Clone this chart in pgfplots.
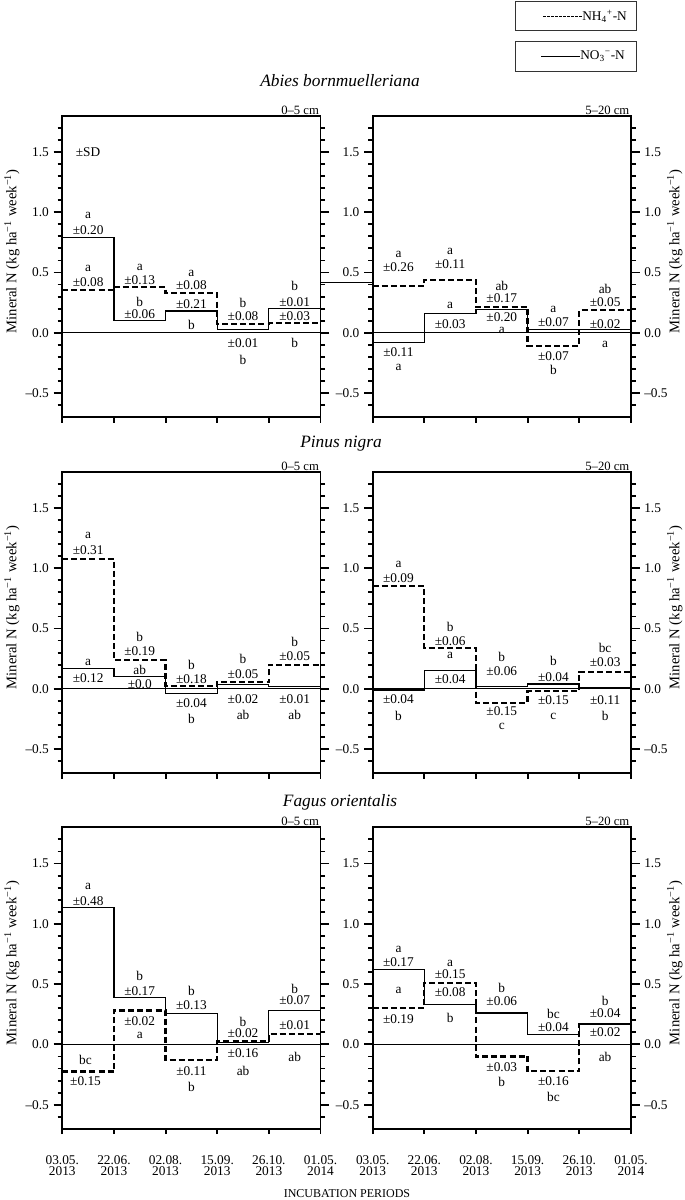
\documentclass[border=0pt]{standalone}
\usepackage{fontspec}
\setmainfont{Liberation Serif}
\usepackage{pgfplots}
\pgfplotsset{compat=1.18}

\newcommand{\ann}[3]{\node[font=\fontsize{10}{11}\selectfont, inner sep=0pt] at (axis cs:#1,#2) {#3};}

\pgfplotsset{
  panel/.style={
    scale only axis, width=193.7pt, height=226.1pt,
    anchor=north west,
    xmin=0,xmax=5,ymin=-0.7,ymax=1.8,
    axis line style={line width=1.4pt},
    xtick={0,1,2,3,4,5}, xticklabels={},
    xtick pos=left,
    ytick pos=both,
    tick align=outside,
    ytick={-0.5,0,0.5,1,1.5},
    yticklabels={–0.5,0.0,0.5,1.0,1.5},
    minor ytick={-0.6,-0.4,-0.3,-0.2,-0.1,0.1,0.2,0.3,0.4,0.6,0.7,0.8,0.9,1.1,1.2,1.3,1.4,1.6,1.7},
    major tick length=6.5pt, minor tick length=3.5pt,
    every tick/.style={line width=1.4pt, black},
    xtick style={/pgfplots/major tick length=4pt},
    tick label style={font=\fontsize{10}{11}\selectfont},
    yticklabel pos=left,
    clip=false,
    every axis y label/.style={at={(axis description cs:-0.195,0.55)},rotate=90,anchor=center,font=\fontsize{11}{13}\selectfont},
  },
  rightlab/.style={
    scale only axis, width=193.7pt, height=226.1pt,
    anchor=north west,
    xmin=0,xmax=5,ymin=-0.7,ymax=1.8,
    hide x axis,
    axis y line*=right,
    axis line style={line width=1.4pt},
    ytick pos=right, yticklabel pos=right,
    tick align=outside,
    ytick={-0.5,0,0.5,1,1.5},
    yticklabels={–0.5,0.0,0.5,1.0,1.5},
    minor ytick={-0.6,-0.4,-0.3,-0.2,-0.1,0.1,0.2,0.3,0.4,0.6,0.7,0.8,0.9,1.1,1.2,1.3,1.4,1.6,1.7},
    major tick length=6.5pt, minor tick length=3.5pt,
    every tick/.style={line width=1.4pt, black},
    tick label style={font=\fontsize{10}{11}\selectfont},
    every axis y label/.style={at={(axis description cs:1.17,0.55)},rotate=90,anchor=center,font=\fontsize{11}{13}\selectfont},
    ylabel={Mineral N (kg ha\textsuperscript{−1} week\textsuperscript{−1})},
  },
  bottomrow/.style={
    xticklabels={03.05.\\2013,22.06.\\2013,02.08.\\2013,15.09.\\2013,26.10.\\2013,01.05.\\2014},
    xticklabel style={align=center, font=\fontsize{10}{8.5}\selectfont, yshift=-10pt},
  },
  no3/.style={const plot, black, line width=0.9pt, no marks},
  nh4/.style={const plot, black, line width=1.7pt, dash pattern=on 4.5pt off 2.3pt, no marks},
  zero/.style={black, line width=0.8pt, no marks},
}
\newcommand{\ylab}{Mineral N (kg ha\textsuperscript{−1} week\textsuperscript{−1})}
\newcommand{\depth}[1]{\node[anchor=south east, font=\fontsize{9.5}{10}\selectfont, inner sep=1pt] at (rel axis cs:1,1) {#1};}

\begin{document}
\begin{tikzpicture}

% legend boxes
\draw[line width=0.6pt, black!80] (386.8pt,-1.3pt) rectangle (477pt,-23pt);
\draw[line width=0.6pt, black, dash pattern=on 2pt off 1pt] (407.3pt,-12.2pt) -- (436.5pt,-12.2pt);
\node[anchor=west, inner sep=0pt, font=\fontsize{10}{11}\selectfont] at (436.5pt,-12.2pt) {NH\textsubscript{4}\textsuperscript{+}-N};
\draw[line width=0.6pt, black!80] (386.8pt,-31.3pt) rectangle (477pt,-53.25pt);
\draw[line width=0.6pt, black] (405.75pt,-42.3pt) -- (435pt,-42.3pt);
\node[anchor=west, inner sep=0pt, font=\fontsize{10}{11}\selectfont] at (435pt,-42.3pt) {NO\textsubscript{3}\textsuperscript{−}-N};

% titles
\node[font=\fontsize{13}{15}\selectfont\itshape] at (255pt,-60.75pt) {Abies bornmuelleriana};
\node[font=\fontsize{13}{15}\selectfont\itshape] at (255.75pt,-333pt) {Pinus nigra};
\node[font=\fontsize{13}{15}\selectfont\itshape] at (255pt,-601.5pt) {Fagus orientalis};
\node[font=\fontsize{9}{10}\selectfont] at (260.25pt,-895.5pt) {INCUBATION PERIODS};

%% ---------- Row 1: Abies ----------
\begin{axis}[panel, at={(46.7pt,-86.8pt)}, ylabel={\ylab}]
\addplot[zero] coordinates {(0,0)(5,0)};
\addplot[no3] coordinates {(0,0.79)(1,0.10)(2,0.18)(3,0.025)(4,0.20)(5,0.20)};
\addplot[nh4] coordinates {(0,0.353)(1,0.378)(2,0.328)(3,0.075)(4,0.08)(5,0.08)};
\depth{0–5 cm}
\ann{0.5}{1.5}{±SD}
\ann{0.5}{0.97}{a}\ann{0.5}{0.855}{±0.20}\ann{0.5}{0.533}{a}\ann{0.5}{0.417}{±0.08}
\ann{1.5}{0.54}{a}\ann{1.5}{0.438}{±0.13}\ann{1.5}{0.255}{b}\ann{1.5}{0.153}{±0.06}
\ann{2.5}{0.494}{a}\ann{2.5}{0.394}{±0.08}\ann{2.5}{0.236}{±0.21}\ann{2.5}{0.063}{b}
\ann{3.5}{0.244}{b}\ann{3.5}{0.138}{±0.08}\ann{3.5}{-0.083}{±0.01}\ann{3.5}{-0.223}{b}
\ann{4.5}{0.388}{b}\ann{4.5}{0.258}{±0.01}\ann{4.5}{0.138}{±0.03}\ann{4.5}{-0.083}{b}
\end{axis}

\begin{axis}[panel, at={(279.5pt,-86.8pt)}]
\addplot[zero] coordinates {(0,0)(5,0)};
\addplot[black, line width=0.9pt, no marks] coordinates {(-1,0.42)(0,0.42)};
\addplot[no3] coordinates {(0,-0.083)(1,0.16)(2,0.193)(3,0.028)(4,0.028)(5,0.028)};
\addplot[nh4] coordinates {(0,0.39)(1,0.44)(2,0.213)(3,-0.11)(4,0.188)(5,0.188)};
\depth{5–20 cm}
\ann{0.5}{0.652}{a}\ann{0.5}{0.547}{±0.26}\ann{0.5}{-0.157}{±0.11}\ann{0.5}{-0.287}{a}
\ann{1.5}{0.671}{a}\ann{1.5}{0.569}{±0.11}\ann{1.5}{0.224}{a}\ann{1.5}{0.072}{±0.03}
\ann{2.5}{0.39}{ab}\ann{2.5}{0.285}{±0.17}\ann{2.5}{0.127}{±0.20}\ann{2.5}{0.022}{a}
\ann{3.5}{0.196}{a}\ann{3.5}{0.086}{±0.07}\ann{3.5}{-0.193}{±0.07}\ann{3.5}{-0.31}{b}
\ann{4.5}{0.362}{ab}\ann{4.5}{0.257}{±0.05}\ann{4.5}{0.072}{±0.02}\ann{4.5}{-0.097}{a}
\end{axis}
\begin{axis}[rightlab, at={(279.5pt,-86.8pt)}]
\end{axis}

%% ---------- Row 2: Pinus ----------
\begin{axis}[panel, at={(46.7pt,-353.8pt)}, ylabel={\ylab}]
\addplot[zero] coordinates {(0,0)(5,0)};
\addplot[no3] coordinates {(0,0.167)(1,0.104)(2,-0.038)(3,0.036)(4,0.022)(5,0.022)};
\addplot[nh4] coordinates {(0,1.077)(1,0.236)(2,0.022)(3,0.055)(4,0.20)(5,0.20)};
\depth{0–5 cm}
\ann{0.5}{1.268}{a}\ann{0.5}{1.151}{±0.31}\ann{0.5}{0.219}{a}\ann{0.5}{0.09}{±0.12}
\ann{1.5}{0.427}{b}\ann{1.5}{0.31}{±0.19}\ann{1.5}{0.159}{ab}\ann{1.5}{0.041}{±0.0}
\ann{2.5}{0.2}{b}\ann{2.5}{0.082}{±0.18}\ann{2.5}{-0.115}{±0.04}\ann{2.5}{-0.247}{b}
\ann{3.5}{0.247}{b}\ann{3.5}{0.123}{±0.05}\ann{3.5}{-0.088}{±0.02}\ann{3.5}{-0.219}{ab}
\ann{4.5}{0.392}{b}\ann{4.5}{0.268}{±0.05}\ann{4.5}{-0.088}{±0.01}\ann{4.5}{-0.219}{ab}
\end{axis}

\begin{axis}[panel, at={(279.5pt,-353.8pt)}]
\addplot[zero] coordinates {(0,0)(5,0)};
\addplot[no3] coordinates {(0,-0.01)(1,0.15)(2,0.02)(3,0.04)(4,0.01)(5,0.01)};
\addplot[nh4] coordinates {(0,0.85)(1,0.337)(2,-0.115)(3,-0.02)(4,0.14)(5,0.14)};
\depth{5–20 cm}
\ann{0.5}{1.035}{a}\ann{0.5}{0.92}{±0.09}\ann{0.5}{-0.082}{±0.04}\ann{0.5}{-0.225}{b}
\ann{1.5}{0.514}{b}\ann{1.5}{0.397}{±0.06}\ann{1.5}{0.28}{a}\ann{1.5}{0.08}{±0.04}
\ann{2.5}{0.268}{b}\ann{2.5}{0.145}{±0.06}\ann{2.5}{-0.184}{±0.15}\ann{2.5}{-0.312}{c}
\ann{3.5}{0.232}{b}\ann{3.5}{0.098}{±0.04}\ann{3.5}{-0.096}{±0.15}\ann{3.5}{-0.225}{c}
\ann{4.5}{0.337}{bc}\ann{4.5}{0.219}{±0.03}\ann{4.5}{-0.096}{±0.11}\ann{4.5}{-0.225}{b}
\end{axis}
\begin{axis}[rightlab, at={(279.5pt,-353.8pt)}]
\end{axis}

%% ---------- Row 3: Fagus ----------
\begin{axis}[panel, bottomrow, at={(46.7pt,-620.5pt)}, ylabel={\ylab}]
\addplot[zero] coordinates {(0,0)(5,0)};
\addplot[no3] coordinates {(0,1.132)(1,0.387)(2,0.254)(3,0.019)(4,0.281)(5,0.281)};
\addplot[nh4] coordinates {(0,-0.224)(1,0.281)(2,-0.128)(3,0.027)(4,0.087)(5,0.087)};
\depth{0–5 cm}
\ann{0.5}{1.309}{a}\ann{0.5}{1.192}{±0.48}\ann{0.45}{-0.128}{bc}\ann{0.45}{-0.308}{±0.15}
\ann{1.5}{0.565}{b}\ann{1.5}{0.442}{±0.17}\ann{1.5}{0.191}{±0.02}\ann{1.5}{0.074}{a}
\ann{2.5}{0.445}{b}\ann{2.5}{0.322}{±0.13}\ann{2.5}{-0.218}{±0.11}\ann{2.5}{-0.355}{b}
\ann{3.5}{0.185}{b}\ann{3.5}{0.09}{±0.02}\ann{3.5}{-0.076}{±0.16}\ann{3.5}{-0.218}{ab}
\ann{4.5}{0.458}{b}\ann{4.5}{0.363}{±0.07}\ann{4.5}{0.158}{±0.01}\ann{4.5}{-0.1}{ab}
\end{axis}

\begin{axis}[panel, bottomrow, at={(279.5pt,-620.5pt)}]
\addplot[zero] coordinates {(0,0)(5,0)};
\addplot[no3] coordinates {(0,0.62)(1,0.33)(2,0.26)(3,0.08)(4,0.17)(5,0.17)};
\addplot[nh4] coordinates {(0,0.30)(1,0.51)(2,-0.10)(3,-0.22)(4,0.17)(5,0.17)};
\depth{5–20 cm}
\ann{0.5}{0.79}{a}\ann{0.5}{0.68}{±0.17}\ann{0.5}{0.45}{a}\ann{0.5}{0.21}{±0.19}
\ann{1.5}{0.67}{a}\ann{1.5}{0.58}{±0.15}\ann{1.5}{0.43}{±0.08}\ann{1.5}{0.22}{b}
\ann{2.5}{0.47}{b}\ann{2.5}{0.36}{±0.06}\ann{2.5}{-0.19}{±0.03}\ann{2.5}{-0.314}{b}
\ann{3.5}{0.25}{bc}\ann{3.5}{0.14}{±0.04}\ann{3.5}{-0.306}{±0.16}\ann{3.5}{-0.437}{bc}
\ann{4.5}{0.36}{b}\ann{4.5}{0.26}{±0.04}\ann{4.5}{0.10}{±0.02}\ann{4.5}{-0.104}{ab}
\end{axis}
\begin{axis}[rightlab, at={(279.5pt,-620.5pt)}]
\end{axis}

\pgfresetboundingbox
\useasboundingbox (0,0) rectangle (513.75pt,-900pt);
\end{tikzpicture}
\end{document}
